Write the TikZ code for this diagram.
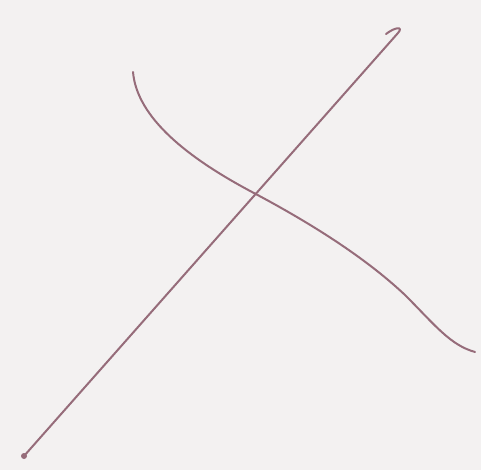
\documentclass[tikz,border=0pt]{standalone}
\begin{document}
\begin{tikzpicture}[x=1pt,y=-1pt,
  curveline/.style={draw=curvecol,line width=2pt,line cap=round,line join=round}]
\definecolor{curvecol}{RGB}{150,108,122}
\definecolor{bgcol}{RGB}{243,241,241}
\fill[bgcol] (0,0) rectangle (481,470);
\useasboundingbox (0,0) rectangle (481,470);
\coordinate (a0) at (24,456);
\coordinate (a2) at (386,34);
\coordinate (b0) at (133,72);
\coordinate (b1) at (475,352);
% rising line with small hooks
\fill[curvecol] (a0) circle (3pt);
\draw[curveline] (a0) -- (398,33)
  .. controls (404,26) and (395,27) .. (a2);
% falling curve
\draw[curveline] (b0) .. controls (137,118) and (188,158) .. (252,192)
  .. controls (320,228) and (370,262) .. (405,295)
  .. controls (435,325) and (450,345) .. (b1);
\end{tikzpicture}
\end{document}
